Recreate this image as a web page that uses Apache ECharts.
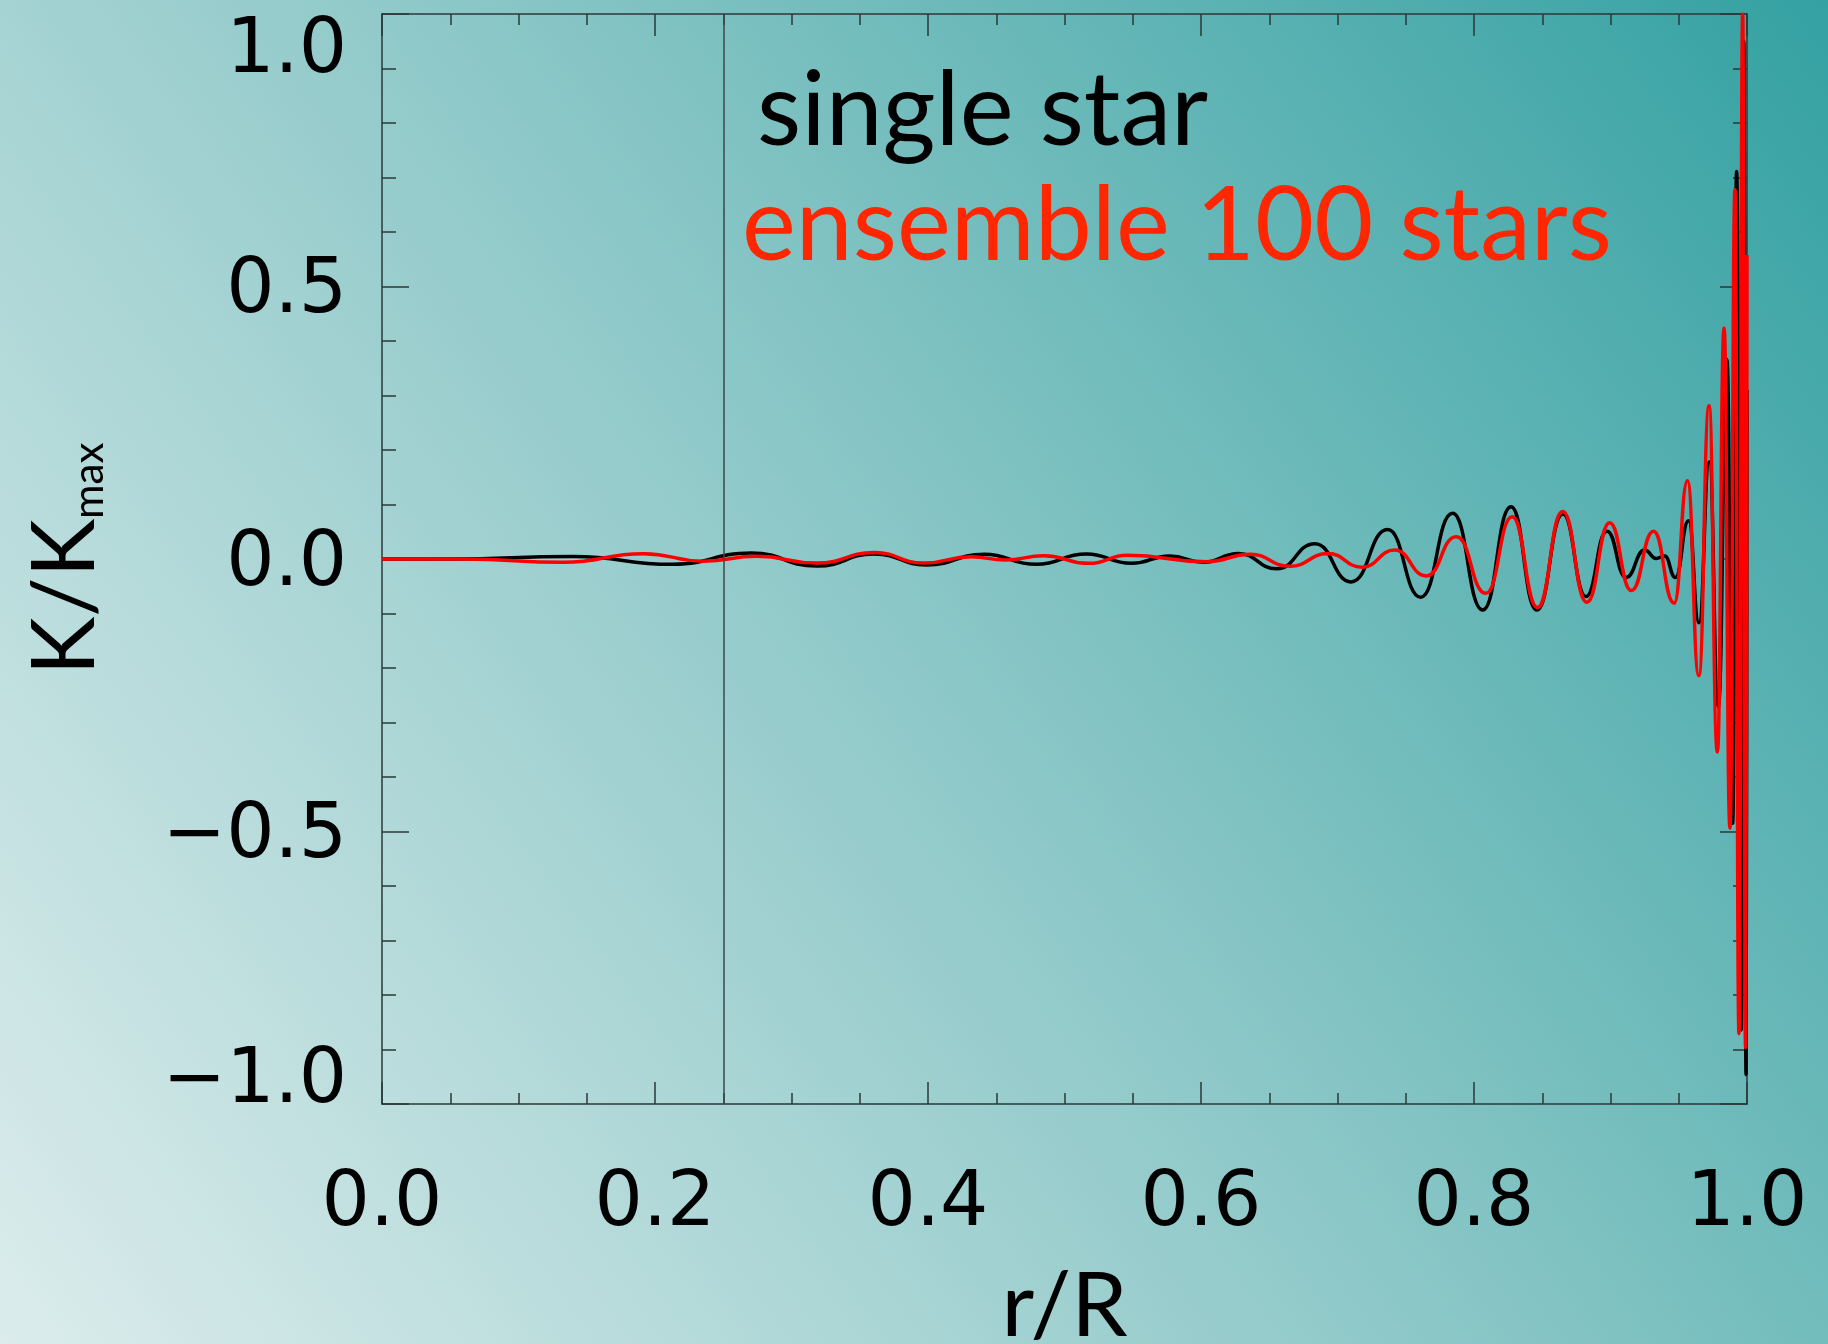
<!DOCTYPE html>
<html>
<head>
<meta charset="utf-8">
<script src="https://cdn.jsdelivr.net/npm/echarts@6/dist/echarts.min.js"></script>
<style>
html,body{margin:0;padding:0;}
#chart{width:1828px;height:1344px;}
</style>
</head>
<body>
<div id="chart"></div>
<script>
// ---- data ----
const singleStarR = [0, 0.05, 0.14, 0.213, 0.2706, 0.3185, 0.3606, 0.399, 0.441, 0.4794, 0.516, 0.549, 0.577, 0.6017, 0.6274, 0.6555, 0.6835, 0.710, 0.7367, 0.761, 0.7843, 0.8064, 0.8271, 0.846, 0.8652, 0.882, 0.8974, 0.9114, 0.925, 0.9334, 0.9397, 0.9475, 0.9572, 0.9648, 0.9724, 0.979, 0.9853, 0.9895, 0.9924, 0.9958, 0.9976, 0.9993, 1.0];
const singleStarK = [0, 0, 0.0045, -0.0098, 0.011, -0.013, 0.0092, -0.011, 0.0086, -0.0098, 0.009, -0.008, 0.0055, -0.006, 0.010, -0.018, 0.028, -0.042, 0.054, -0.070, 0.084, -0.0936, 0.096, -0.0936, 0.0826, -0.069, 0.051, -0.034, 0.0165, 0.001, 0.0055, -0.034, 0.070, -0.117, 0.178, -0.27, 0.366, -0.485, 0.711, -0.864, 0.95, -0.946, 0.31];

const ensembleR = [0, 0.06, 0.133, 0.1915, 0.2354, 0.2745, 0.3185, 0.3606, 0.397, 0.4315, 0.4564, 0.485, 0.5177, 0.546, 0.604, 0.636, 0.665, 0.693, 0.718, 0.742, 0.765, 0.787, 0.8087, 0.828, 0.8465, 0.865, 0.8827, 0.8994, 0.9153, 0.9315, 0.9467, 0.9564, 0.9647, 0.9722, 0.9783, 0.9832, 0.9875, 0.9912, 0.9941, 0.9968, 0.999, 1.0];
const ensembleK = [0, 0, -0.006, 0.0098, -0.004, 0.005, -0.0075, 0.012, -0.0075, 0.0043, -0.002, 0.006, -0.008, 0.007, -0.005, 0.0086, -0.0135, 0.010, -0.015, 0.0165, -0.031, 0.041, -0.063, 0.0776, -0.089, 0.087, -0.0795, 0.0667, -0.058, 0.051, -0.081, 0.1437, -0.214, 0.281, -0.354, 0.424, -0.494, 0.678, -0.871, 1.0, -0.897, 0.558];

const xTickValues = [0, 0.2, 0.4, 0.6, 0.8, 1.0];
const xTickLabels = ['0.0', '0.2', '0.4', '0.6', '0.8', '1.0'];
const yTickValues = [-1, -0.5, 0, 0.5, 1];
const yTickLabels = ['\u22121.0', '\u22120.5', '0.0', '0.5', '1.0'];
const markerR = [0.254];
const seriesNames = ['single star', 'ensemble 100 stars'];

// ---- build ----
function pairs(xs, ys) { return xs.map((x, i) => [x, ys[i]]); }
function lookup(vals, labels) {
  return function (v) {
    for (let i = 0; i < vals.length; i++) if (Math.abs(vals[i] - v) < 1e-9) return labels[i];
    return '';
  };
}
const yLabelText = lookup(yTickValues, yTickLabels);
function yLabelFormatter(v) {
  const t = yLabelText(v);
  if (v === yTickValues[0]) return '{lo|' + t + '}';
  if (v === yTickValues[yTickValues.length - 1]) return '{hi|' + t + '}';
  return '{mid|' + t + '}';
}

const axisLineStyle = { color: '#2b3838', width: 1.5 };
const tickFont = { fontFamily: 'DejaVu Sans', fontSize: 76, color: '#000' };

const chart = echarts.init(document.getElementById('chart'), null, { renderer: 'canvas' });
chart.setOption({
  animation: false,
  backgroundColor: {
    type: 'linear', x: 0, y: 1, x2: 1, y2: 0,
    colorStops: [
      { offset: 0, color: '#dcecec' },
      { offset: 0.5, color: '#8ec8c8' },
      { offset: 1, color: '#34a1a2' }
    ]
  },
  grid: { left: 382, right: 81, top: 14, bottom: 240, containLabel: false, outerBoundsMode: 'none' },
  xAxis: [
    {
      type: 'value', min: 0, max: 1, interval: 0.2, position: 'bottom',
      axisLine: { show: true, onZero: false, lineStyle: axisLineStyle },
      axisTick: { show: true, inside: true, length: 22, lineStyle: axisLineStyle },
      minorTick: { show: true, splitNumber: 4, length: 11, lineStyle: axisLineStyle },
      splitLine: { show: false },
      axisLabel: Object.assign({ margin: 63, formatter: lookup(xTickValues, xTickLabels) }, tickFont),
      name: 'r/R', nameLocation: 'middle', nameGap: 158,
      nameTextStyle: { fontFamily: 'Lato', fontSize: 90, color: '#000' }
    },
    {
      type: 'value', min: 0, max: 1, interval: 0.2, position: 'top',
      axisLine: { show: true, onZero: false, lineStyle: axisLineStyle },
      axisTick: { show: true, inside: true, length: 22, lineStyle: axisLineStyle },
      minorTick: { show: true, splitNumber: 4, length: 11, lineStyle: axisLineStyle },
      splitLine: { show: false },
      axisLabel: { show: false }
    }
  ],
  yAxis: [
    {
      type: 'value', min: -1, max: 1, interval: 0.5, position: 'left',
      axisLine: { show: true, onZero: false, lineStyle: axisLineStyle },
      axisTick: { show: true, inside: true, length: 27, lineStyle: axisLineStyle },
      minorTick: { show: true, splitNumber: 5, length: 14, lineStyle: axisLineStyle },
      splitLine: { show: false },
      axisLabel: Object.assign({
        margin: 35, formatter: yLabelFormatter,
        verticalAlignMinLabel: 'bottom', verticalAlignMaxLabel: 'top',
        rich: {
          lo: { fontFamily: 'DejaVu Sans', fontSize: 76, color: '#000', lineHeight: 44 },
          hi: { fontFamily: 'DejaVu Sans', fontSize: 76, color: '#000' },
          mid: { fontFamily: 'DejaVu Sans', fontSize: 76, color: '#000', padding: [12, 0, 0, 0] }
        }
      }, tickFont),
      name: '{a|K/K}{b|max}', nameLocation: 'middle', nameRotate: 90, nameGap: 272,
      nameTextStyle: {
        rich: {
          a: { fontFamily: 'Lato', fontSize: 88, color: '#000', lineHeight: 88, verticalAlign: 'bottom' },
          b: { fontFamily: 'Lato', fontSize: 42, color: '#000', lineHeight: 26, verticalAlign: 'bottom' }
        }
      }
    },
    {
      type: 'value', min: -1, max: 1, interval: 0.5, position: 'right',
      axisLine: { show: true, onZero: false, lineStyle: axisLineStyle },
      axisTick: { show: true, inside: true, length: 27, lineStyle: axisLineStyle },
      minorTick: { show: true, splitNumber: 5, length: 14, lineStyle: axisLineStyle },
      splitLine: { show: false },
      axisLabel: { show: false }
    }
  ],
  series: [
    {
      name: seriesNames[0], type: 'line', xAxisIndex: 0, yAxisIndex: 0,
      data: pairs(singleStarR, singleStarK),
      showSymbol: false, smooth: 0.5, smoothMonotone: 'x',
      lineStyle: { color: '#000000', width: 3.5 },
      z: 2,
      markLine: {
        silent: true, symbol: ['none', 'none'], label: { show: false },
        lineStyle: { color: '#3a4848', width: 1.5, type: 'solid' },
        data: markerR.map(v => ({ xAxis: v }))
      }
    },
    {
      name: seriesNames[1], type: 'line', xAxisIndex: 0, yAxisIndex: 0,
      data: pairs(ensembleR, ensembleK),
      showSymbol: false, smooth: 0.5, smoothMonotone: 'x',
      lineStyle: { color: '#ff0000', width: 3.5 },
      z: 3
    }
  ],
  graphic: [
    { type: 'text', x: 757, y: 112, style: { text: seriesNames[0], font: '102px Lato', fill: '#000000', align: 'left', verticalAlign: 'middle' } },
    { type: 'text', x: 742, y: 227, style: { text: seriesNames[1], font: '102px Lato', fill: '#ff2600', align: 'left', verticalAlign: 'middle' } }
  ]
});
</script>
</body>
</html>
